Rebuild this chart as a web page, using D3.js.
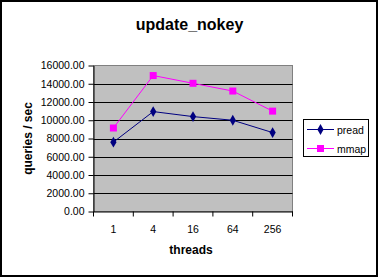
<!DOCTYPE html>
<html><head><meta charset="utf-8">
<script src="https://cdn.jsdelivr.net/npm/d3@7"></script>
<style>body{margin:0;background:#fff}svg{display:block}text{font-family:"Liberation Sans",Arial,sans-serif}</style>
</head><body><svg id="c" width="379" height="278"></svg>
<script>
const categories = ["1","4","16","64","256"];
const preadValues = [7600, 10950, 10400, 10000, 8650];
const mmapValues = [9150, 14900, 14050, 13200, 11000];
const yTicks = [0,2000,4000,6000,8000,10000,12000,14000,16000];

const svg = d3.select("#c");
svg.append("rect").attr("x",1).attr("y",1).attr("width",376).attr("height",275)
  .attr("fill","#fff").attr("stroke","#000").attr("stroke-width",2);

const L=93.5,R=292.5,T=65.5,B=211.5;
const x = d3.scaleBand().domain(categories).range([L,R]);
const y = d3.scaleLinear().domain([0,16000]).range([B,T]);

svg.append("rect").attr("x",L).attr("y",T).attr("width",R-L).attr("height",B-T)
  .attr("fill","#c0c0c0").attr("stroke","#808080").attr("stroke-width",1);

svg.append("g").selectAll("line").data(yTicks.filter(d=>d>0&&d<16000)).join("line")
  .attr("x1",L).attr("x2",R).attr("y1",d=>Math.round(y(d))+0.5).attr("y2",d=>Math.round(y(d))+0.5)
  .attr("stroke","#000").attr("stroke-width",1);

const ya = svg.append("g").attr("transform",`translate(${L},0)`)
  .call(d3.axisLeft(y).tickValues(yTicks).tickSize(5).tickSizeOuter(0).tickFormat(d3.format(".2f")));
ya.select(".domain").attr("stroke","#000");
ya.selectAll(".tick line").attr("stroke","#000");
ya.selectAll("text").attr("font-size","10.5px").attr("fill","#000").attr("x",-9)
  .attr("font-family","'Liberation Sans',Arial,sans-serif");

const xa = svg.append("g").attr("transform",`translate(0,${B})`)
  .call(d3.axisBottom(x).tickSize(0).tickSizeOuter(0));
xa.select(".domain").attr("stroke","#000");
xa.selectAll("text").attr("font-size","10.5px").attr("fill","#000").attr("y",14)
  .attr("font-family","'Liberation Sans',Arial,sans-serif");
// category boundary ticks
const bounds = categories.map(c=>x(c)).concat([R]);
svg.append("g").selectAll("line").data(bounds).join("line")
  .attr("x1",d=>d).attr("x2",d=>d).attr("y1",B).attr("y2",B+5).attr("stroke","#000");

const cx = d=>x(d)+x.bandwidth()/2;
const line = d3.line().x((d,i)=>cx(categories[i])).y(d=>y(d));
svg.append("path").datum(preadValues).attr("d",line).attr("fill","none").attr("stroke","#000080").attr("stroke-width",1);
svg.append("path").datum(mmapValues).attr("d",line).attr("fill","none").attr("stroke","#ff00ff").attr("stroke-width",1);

const diamond = d3.symbol().type(d3.symbolDiamond).size(34);
svg.append("g").selectAll("path").data(preadValues).join("path")
  .attr("d",diamond).attr("transform",(d,i)=>`translate(${cx(categories[i])},${y(d)})`).attr("fill","#000080");
svg.append("g").selectAll("rect").data(mmapValues).join("rect")
  .attr("x",(d,i)=>cx(categories[i])-3.5).attr("y",d=>y(d)-3.5).attr("width",7).attr("height",7).attr("fill","#ff00ff");

svg.append("text").attr("x",189.5).attr("y",30).attr("text-anchor","middle")
  .attr("font-size","16px").attr("font-weight","bold").text("update_nokey");
svg.append("text").attr("x",191).attr("y",254).attr("text-anchor","middle")
  .attr("font-size","12px").attr("font-weight","bold").text("threads");
svg.append("text").attr("transform","translate(32,138.5) rotate(-90)").attr("text-anchor","middle")
  .attr("font-size","12px").attr("font-weight","bold").text("queries / sec");

const lg = svg.append("g");
lg.append("rect").attr("x",303.5).attr("y",119.5).attr("width",65).attr("height",37).attr("fill","#fff").attr("stroke","#000");
const items=[{n:"pread",c:"#000080",y:129.5,t:"d"},{n:"mmap",c:"#ff00ff",y:148.5,t:"s"}];
items.forEach(it=>{
  lg.append("line").attr("x1",307).attr("x2",334).attr("y1",it.y).attr("y2",it.y).attr("stroke",it.c);
  if(it.t==="d") lg.append("path").attr("d",diamond).attr("transform",`translate(320.5,${it.y})`).attr("fill",it.c);
  else lg.append("rect").attr("x",317).attr("y",it.y-3.5).attr("width",7).attr("height",7).attr("fill",it.c);
  lg.append("text").attr("x",337).attr("y",it.y+4).attr("font-size","10.5px").text(it.n);
});
</script></body></html>
